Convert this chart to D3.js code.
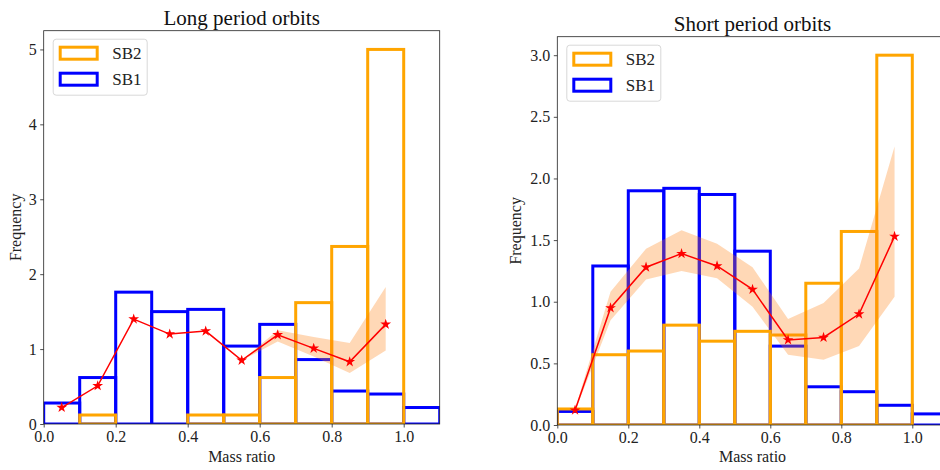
<!DOCTYPE html>
<html>
<head>
<meta charset="utf-8">
<script src="https://cdn.jsdelivr.net/npm/d3@7"></script>
<style>
  body { margin: 0; background: #fff; }
  svg { font-family: "Liberation Serif", "DejaVu Serif", serif; }
</style>
</head>
<body>
<div id="chart"></div>
<script>
// bin left edges (mass ratio), bin width and bin centres
var binLeft = [0.0, 0.1, 0.2, 0.3, 0.4, 0.5, 0.6, 0.7, 0.8, 0.9, 1.0];
var binWidth = 0.1;
var centres = [0.05, 0.15, 0.25, 0.35, 0.45, 0.55, 0.65, 0.75, 0.85, 0.95];

// long period orbits
var longSB2 = [0, 0.12, 0, 0, 0.12, 0.12, 0.62, 1.62, 2.37, 5.0, 0];
var longSB1 = [0.28, 0.62, 1.76, 1.50, 1.53, 1.04, 1.33, 0.86, 0.44, 0.40, 0.22];
var longMean = [0.22, 0.51, 1.40, 1.20, 1.24, 0.85, 1.19, 1.01, 0.83, 1.33];
var longLow  = [0.22, 0.51, 1.40, 1.20, 1.24, 0.85, 1.10, 0.90, 0.68, 0.98];
var longHigh = [0.22, 0.51, 1.40, 1.20, 1.24, 0.85, 1.25, 1.16, 1.08, 1.83];

// short period orbits
var shortSB2 = [0.13, 0.57, 0.60, 0.81, 0.68, 0.76, 0.73, 1.15, 1.57, 3.0, 0];
var shortSB1 = [0.11, 1.29, 1.90, 1.92, 1.87, 1.41, 0.64, 0.31, 0.27, 0.16, 0.09];
var shortMean = [0.12, 0.95, 1.28, 1.39, 1.29, 1.10, 0.69, 0.71, 0.90, 1.53];
var shortLow  = [0.11, 0.85, 1.18, 1.25, 1.19, 0.96, 0.57, 0.53, 0.64, 1.04];
var shortHigh = [0.13, 1.08, 1.43, 1.58, 1.47, 1.28, 0.86, 0.99, 1.27, 2.26];

var xTicks = [0, 0.2, 0.4, 0.6, 0.8, 1.0];
var legendLabels = ["SB2", "SB1"];

var W = 940, H = 470;
var svg = d3.select("#chart").append("svg")
  .attr("width", W)
  .attr("height", H);

function panel(p) {
  var x = d3.scaleLinear([0, 1.1], [p.left, p.right]);
  var y = d3.scaleLinear([0, p.ymax], [p.bottom, p.top]);

  var g = svg.append("g");

  g.append("clipPath").attr("id", p.id)
    .append("rect")
    .attr("x", p.left).attr("y", p.top)
    .attr("width", p.right - p.left).attr("height", p.bottom - p.top);

  var plot = g.append("g").attr("clip-path", "url(#" + p.id + ")");

  /* histogram outlines, blue first, orange on top */
  function bars(vals, col) {
    plot.selectAll(null)
      .data(binLeft)
      .enter().append("rect")
      .attr("x", d => x(d))
      .attr("width", x(binWidth) - x(0))
      .attr("y", (d, i) => y(vals[i]))
      .attr("height", (d, i) => y(0) - y(vals[i]))
      .attr("fill", "none")
      .attr("stroke", col)
      .attr("stroke-width", 3);
  }
  bars(p.sb1, "#0000ff");
  bars(p.sb2, "#ffa500");

  /* uncertainty band */
  var area = d3.area()
    .x((d, i) => x(centres[i]))
    .y0((d, i) => y(p.low[i]))
    .y1((d, i) => y(p.high[i]));
  plot.append("path")
    .datum(centres)
    .attr("d", area)
    .attr("fill", "#ff7f0e")
    .attr("fill-opacity", 0.3);

  /* mean line with star markers */
  var line = d3.line()
    .x((d, i) => x(centres[i]))
    .y(d => y(d));
  plot.append("path")
    .datum(p.mean)
    .attr("d", line)
    .attr("fill", "none")
    .attr("stroke", "#ff0000")
    .attr("stroke-width", 1.5);

  var star = d3.symbol().type(d3.symbolStar).size(36);
  plot.selectAll(null)
    .data(p.mean)
    .enter().append("path")
    .attr("transform", (d, i) => "translate(" + x(centres[i]) + "," + y(d) + ")")
    .attr("d", star)
    .attr("fill", "#ff0000");

  /* frame */
  g.append("rect")
    .attr("x", p.left).attr("y", p.top)
    .attr("width", p.right - p.left).attr("height", p.bottom - p.top)
    .attr("fill", "none")
    .attr("stroke", "#222")
    .attr("stroke-width", 0.8);

  /* axes */
  var xa = g.append("g")
    .attr("transform", "translate(0," + p.bottom + ")")
    .call(d3.axisBottom(x).tickValues(xTicks).tickFormat(d3.format(".1f"))
      .tickSize(3.5).tickPadding(3));
  var ya = g.append("g")
    .attr("transform", "translate(" + p.left + ",0)")
    .call(d3.axisLeft(y).tickValues(p.yTicks).tickFormat(d3.format(p.yFormat))
      .tickSize(3.5).tickPadding(3.5));
  [xa, ya].forEach(a => {
    a.select(".domain").remove();
    a.selectAll(".tick line").attr("stroke", "#222").attr("stroke-width", 0.8);
    a.selectAll(".tick text")
      .attr("fill", "#222")
      .style("font-family", "'Liberation Serif', serif")
      .style("font-size", "16px");
  });

  /* titles and axis labels */
  g.append("text")
    .attr("x", (p.left + p.right) / 2)
    .attr("y", p.top - 6)
    .attr("text-anchor", "middle")
    .style("font-size", "21px")
    .attr("fill", "#111")
    .text(p.title);

  g.append("text")
    .attr("x", x(0.55))
    .attr("y", 462)
    .attr("text-anchor", "middle")
    .style("font-size", "16px")
    .attr("fill", "#222")
    .text("Mass ratio");

  g.append("text")
    .attr("transform", "translate(" + p.ylabelX + "," + (p.top + p.bottom) / 2 + ") rotate(-90)")
    .attr("text-anchor", "middle")
    .attr("dy", "0.35em")
    .style("font-size", "16px")
    .attr("fill", "#222")
    .text("Frequency");

  /* legend */
  var lg = g.append("g").attr("transform", "translate(" + (p.left + 9.5) + "," + (p.top + 8.5) + ")");
  lg.append("rect")
    .attr("width", 94).attr("height", 56)
    .attr("rx", 3)
    .attr("fill", "#fff").attr("fill-opacity", 0.8)
    .attr("stroke", "#d8d8d8").attr("stroke-width", 1);
  var cols = ["#ffa500", "#0000ff"];
  legendLabels.forEach((lab, i) => {
    lg.append("rect")
      .attr("x", 7).attr("y", 8 + i * 26)
      .attr("width", 37).attr("height", 12)
      .attr("fill", "none")
      .attr("stroke", cols[i]).attr("stroke-width", 3);
    lg.append("text")
      .attr("x", 59).attr("y", 14 + i * 26)
      .attr("dy", "0.35em")
      .style("font-size", "17px")
      .attr("fill", "#222")
      .text(lab);
  });
}

panel({
  id: "c1", title: "Long period orbits",
  left: 43.7, right: 439.7, top: 30.7, bottom: 424,
  ymax: 5.25, yTicks: [0, 1, 2, 3, 4, 5], yFormat: "d",
  sb1: longSB1, sb2: longSB2, mean: longMean, low: longLow, high: longHigh,
  ylabelX: 15
});

panel({
  id: "c2", title: "Short period orbits",
  left: 557.3, right: 947.8, top: 36.7, bottom: 425,
  ymax: 3.15, yTicks: [0, 0.5, 1, 1.5, 2, 2.5, 3], yFormat: ".1f",
  sb1: shortSB1, sb2: shortSB2, mean: shortMean, low: shortLow, high: shortHigh,
  ylabelX: 515
});
</script>
</body>
</html>
